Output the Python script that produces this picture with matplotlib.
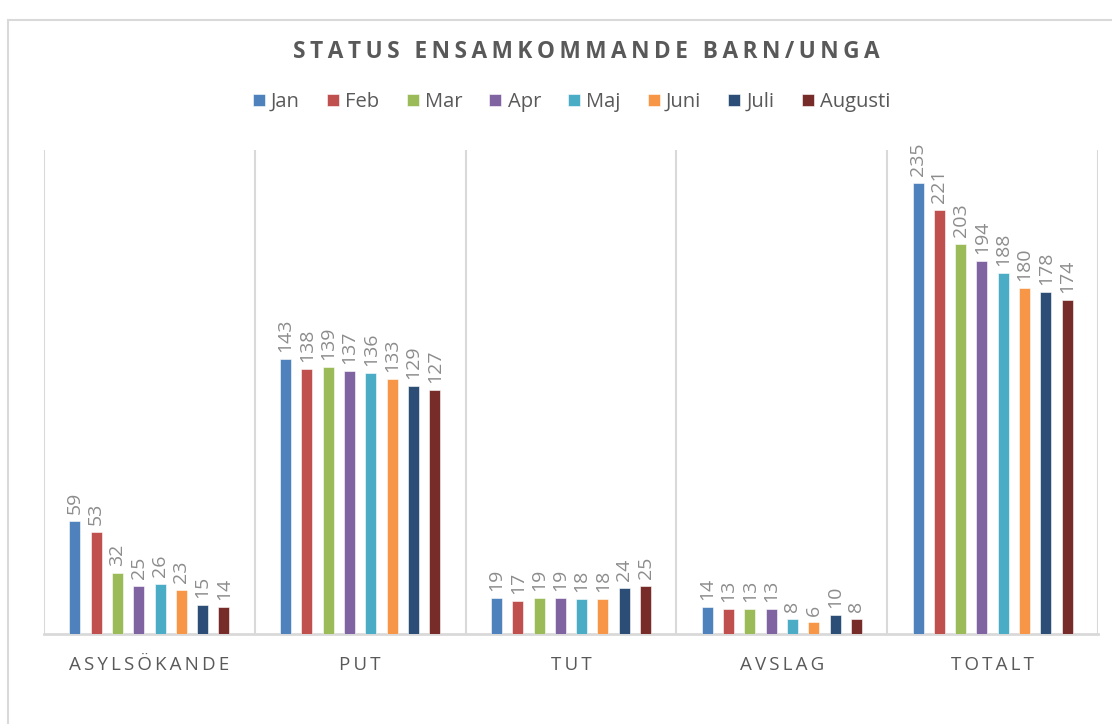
import numpy as np
import matplotlib.pyplot as plt
from matplotlib.patches import Rectangle

# Data
kategorier = ['ASYLSÖKANDE', 'PUT', 'TUT', 'AVSLAG', 'TOTALT']
manader = ['Jan', 'Feb', 'Mar', 'Apr', 'Maj', 'Juni', 'Juli', 'Augusti']
jan = [59, 143, 19, 14, 235]
feb = [53, 138, 17, 13, 221]
mar = [32, 139, 19, 13, 203]
apr = [25, 137, 19, 13, 194]
maj = [26, 136, 18, 8, 188]
juni = [23, 133, 18, 6, 180]
juli = [15, 129, 24, 10, 178]
augusti = [14, 127, 25, 8, 174]
serier = [jan, feb, mar, apr, maj, juni, juli, augusti]

farger = ['#4F81BD', '#C0504D', '#9BBB59', '#8064A2',
          '#4BACC6', '#F79646', '#2C4D75', '#772C2A']

plt.rcParams['font.family'] = ['Open Sans', 'DejaVu Sans']

fig = plt.figure(figsize=(11.12, 7.24), dpi=100)

# ram runt diagramytan
fig.patches.append(Rectangle((8 / 1112, -0.02), 1.1, 1 - 20 / 724 + 0.02,
                             transform=fig.transFigure, fill=False,
                             edgecolor='#D9D9D9', lw=1.5))

ax = fig.add_axes([44 / 1112, 90 / 724, 1054 / 1112, 484 / 724])

x = np.arange(len(kategorier))
steg = 0.101
bredd = 0.052
for i, (namn, varden) in enumerate(zip(manader, serier)):
    staplar = ax.bar(x + (i - 3.5) * steg, varden, bredd, color=farger[i],
                     edgecolor='white', linewidth=0.4, label=namn, zorder=3)
    ax.bar_label(staplar, rotation=90, padding=5, color='#8C8C8C', fontsize=14)

ax.set_xlim(-0.5, 4.5)
ax.set_ylim(0, 252)
ax.set_yticks([])
ax.set_xticks(x)
ax.set_xticklabels(['\u2009'.join(k) for k in kategorier], fontsize=13.5,
                   color='#595959')
ax.tick_params(axis='x', which='both', length=0, pad=16)
ax.set_xticks(np.arange(-0.5, 5, 1), minor=True)
ax.grid(axis='x', which='minor', color='#D9D9D9', lw=1.5)
for s in ['top', 'right', 'left']:
    ax.spines[s].set_visible(False)
ax.spines['bottom'].set_color('#D9D9D9')
ax.spines['bottom'].set_linewidth(2)

titel = '\u2009'.join('STATUS ENSAMKOMMANDE BARN/UNGA')
fig.text(0.527, 1 - 52 / 724, titel, ha='center', va='center',
         fontsize=16.3, fontweight='bold', color='#595959')

leg = fig.legend(loc='center', bbox_to_anchor=(0.514, 1 - 102 / 724), ncol=8,
                 frameon=False, fontsize=14.5, handlelength=0.6, handleheight=0.6,
                 handletextpad=0.3, columnspacing=1.35)
for t in leg.get_texts():
    t.set_color('#595959')

plt.savefig('out.png', dpi=100)
